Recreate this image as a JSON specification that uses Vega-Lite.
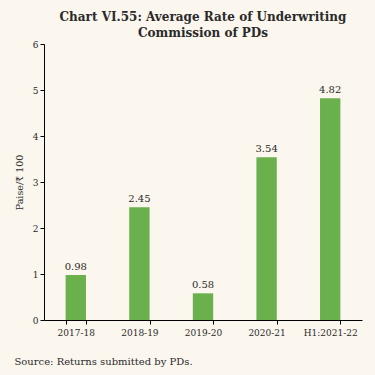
{
  "$schema": "https://vega.github.io/schema/vega-lite/v6.json",
  "width": 318,
  "height": 276,
  "autosize": {"type": "none"},
  "padding": {"left": 44, "top": 44, "right": 13, "bottom": 55},
  "background": "#FBF6EE",
  "title": {
    "text": ["Chart VI.55: Average Rate of Underwriting", "Commission of PDs"],
    "font": "DejaVu Serif",
    "fontSize": 12,
    "fontWeight": "bold",
    "color": "#2a2a2a",
    "anchor": "middle",
    "frame": "group",
    "offset": 0,
    "lineHeight": 16
  },
  "data": {
    "values": [
      {"period": "2017-18", "value": 0.98},
      {"period": "2018-19", "value": 2.45},
      {"period": "2019-20", "value": 0.58},
      {"period": "2020-21", "value": 3.54},
      {"period": "H1:2021-22", "value": 4.82}
    ]
  },
  "encoding": {
    "x": {
      "field": "period",
      "type": "nominal",
      "sort": null,
      "scale": {"paddingInner": 0.68, "paddingOuter": 0.34},
      "axis": {
        "title": "Source: Returns submitted by PDs.",
        "titleFont": "DejaVu Serif",
        "titleFontSize": 10,
        "titleFontWeight": "normal",
        "titleColor": "#2a2a2a",
        "titleAnchor": "start",
        "titleX": -30,
        "titleY": 36,
        "labelAngle": 0,
        "labelFont": "DejaVu Serif",
        "labelFontSize": 9,
        "labelColor": "#2a2a2a",
        "tickBand": "extent",
        "domainColor": "#000000",
        "tickColor": "#000000",
        "tickSize": 4,
        "labelPadding": 4
      }
    },
    "y": {
      "field": "value",
      "type": "quantitative",
      "scale": {"domain": [0, 6]},
      "axis": {
        "title": "Paise/₹ 100",
        "titleFont": "DejaVu Serif",
        "titleFontSize": 9.5,
        "titleFontWeight": "normal",
        "titleColor": "#2a2a2a",
        "titlePadding": 8,
        "values": [0, 1, 2, 3, 4, 5, 6],
        "grid": false,
        "labelFont": "DejaVu Serif",
        "labelFontSize": 9,
        "labelColor": "#2a2a2a",
        "domainColor": "#000000",
        "tickColor": "#000000",
        "tickSize": 4
      }
    }
  },
  "layer": [
    {"mark": {"type": "bar", "color": "#6AB04C"}},
    {
      "mark": {"type": "text", "dy": -8, "font": "DejaVu Serif", "fontSize": 10, "color": "#2a2a2a"},
      "encoding": {"text": {"field": "value", "type": "quantitative", "format": ".2f"}}
    }
  ],
  "config": {"view": {"stroke": null}}
}
